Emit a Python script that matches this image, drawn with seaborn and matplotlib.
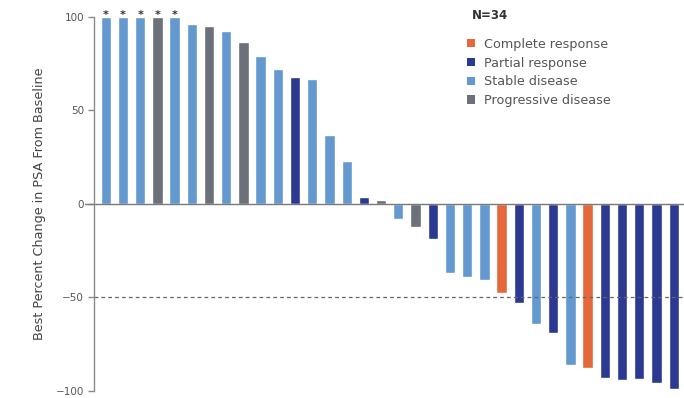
import matplotlib
matplotlib.use("Agg")
import matplotlib.pyplot as plt
import seaborn as sns
import pandas as pd
import numpy as np
from matplotlib.patches import Patch

sns.set_theme(style="white")
plt.rcParams['font.family'] = ['DejaVu Sans']

# Best PSA change per patient, sorted from largest rise to largest fall
patients = [f"P{i:02d}" for i in range(1, 35)]
psa_change = [100, 100, 100, 100, 100, 96.4, 95, 92.3, 86.6, 79.2,
              72, 67.7, 66.7, 36.7, 22.8, 3.6, 2, -7.8, -12.3, -18.7,
              -36.8, -39, -40.4, -47.5, -53.2, -64.4, -69, -86.3, -87.5, -92.9,
              -94.1, -93.8, -95.9, -99.1]
response = ["SD", "SD", "SD", "PD", "SD", "SD", "PD", "SD", "PD", "SD",
            "SD", "PR", "SD", "SD", "SD", "PR", "PD", "SD", "PD", "PR",
            "SD", "SD", "SD", "CR", "PR", "SD", "PR", "SD", "CR", "PR",
            "PR", "PR", "PR", "PR"]
# Patients whose rise exceeded the top of the scale
over_scale = [True] * 5 + [False] * 29

response_codes = ["CR", "PR", "SD", "PD"]
response_labels = ["Complete response", "Partial response",
                   "Stable disease", "Progressive disease"]
response_colors = ["#e4683a", "#2b3990", "#6399cf", "#6b7079"]
palette = dict(zip(response_codes, response_colors))

df = pd.DataFrame({"patient": patients, "change": psa_change,
                   "response": response})

fig = plt.figure(figsize=(6.84, 3.98), dpi=100)
ax = fig.add_axes([0.137, 0.0176, 0.863, 0.94])

sns.barplot(data=df, x="patient", y="change", hue="response",
            palette=palette, dodge=False, width=0.6, legend=False,
            saturation=1, ax=ax, order=patients)

ax.set_xlim(-0.7, 33.6)
ax.set_ylim(-100, 100)
ax.set_yticks([100, 50, 0, -50, -100])
ax.set_yticklabels(["100", "50", "0", "\u221250", "\u2212100"])
ax.set_xticks([])
ax.set_xlabel("")
ax.set_ylabel("Best Percent Change in PSA From Baseline", fontsize=9.2,
              color="#444444", labelpad=7)

for side in ["top", "right", "bottom"]:
    ax.spines[side].set_visible(False)
ax.spines["left"].set_color("#8a8a8a")
ax.spines["left"].set_linewidth(1.0)
ax.tick_params(axis="y", which="both", left=True, length=4, width=1.0,
               color="#8a8a8a", labelsize=7.5, labelcolor="#555555", pad=3)

# Zero baseline and -50% threshold
ax.axhline(0, xmin=-0.015, xmax=1, color="#7a7a7a", lw=1.0, clip_on=False)
ax.axhline(-50, color="#666666", lw=0.9, ls=(0, (3, 2.5)))

for i, flag in enumerate(over_scale):
    if flag:
        ax.text(i, psa_change[i] - 1.5, "*", ha="center", va="bottom",
                fontsize=8, color="#333333", fontweight="bold")

handles = [Patch(facecolor=c, edgecolor="none") for c in response_colors]
fig.text(0.690, 0.962, "N=34", fontsize=8.5, fontweight="bold",
         color="#333333", va="center")
leg = ax.legend(handles, response_labels, loc="upper left",
                bbox_to_anchor=(0.683, 0.905), bbox_transform=fig.transFigure,
                frameon=False, fontsize=9.2,
                handlelength=0.6, handleheight=0.6, handletextpad=0.7,
                labelspacing=0.45, borderaxespad=0, borderpad=0)
for t in leg.get_texts():
    t.set_color("#555555")

fig.savefig("out.png", dpi=100)
